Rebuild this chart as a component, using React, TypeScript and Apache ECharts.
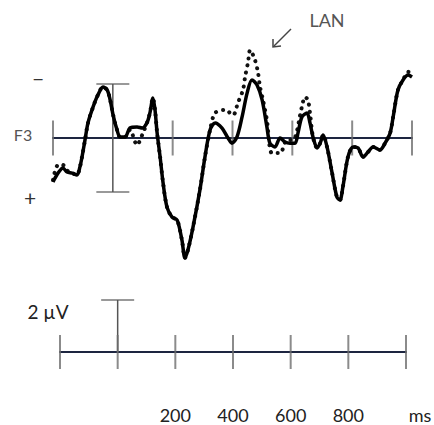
import React, { useEffect, useRef } from 'react';
import * as echarts from 'echarts';

// time (ms) and amplitude (µV, negative plotted upward)
const solidTimes = [-200, -183, -167, -153, -136, -120, -110, -103, -93, -83, -66, -50, -33, -19, -9, 1, 14, 24, 41, 57, 81, 98, 114, 124, 134, 141, 148, 158, 168, 181, 198, 215, 231, 241, 251, 268, 291, 308, 325, 342, 365, 385, 398, 415, 432, 449, 465, 482, 499, 515, 525, 542, 559, 576, 592, 609, 619, 632, 649, 659, 669, 683, 693, 703, 716, 733, 749, 759, 769, 786, 803, 820, 836, 853, 870, 893, 910, 927, 937, 953, 970, 987, 1000];
const solidUV = [1.63, 1.30, 1.11, 1.26, 1.30, 1.37, 1.07, 0.70, 0.07, -0.56, -1.15, -1.59, -1.89, -1.78, -1.41, -0.85, -0.30, -0.04, -0.04, -0.37, -0.41, -0.37, -0.56, -0.93, -1.48, -1.04, -0.19, 0.70, 1.67, 2.56, 2.93, 3.04, 3.78, 4.44, 4.15, 3.30, 1.93, 0.70, -0.30, -0.56, -0.37, 0.00, 0.19, -0.04, -0.78, -1.67, -2.15, -1.96, -1.41, -0.41, 0.19, 0.33, 0.00, 0.15, 0.19, 0.19, -0.19, -0.78, -0.93, -0.56, -0.04, 0.37, 0.19, -0.11, 0.33, 1.30, 2.19, 2.30, 1.81, 0.70, 0.33, 0.37, 0.70, 0.52, 0.33, 0.44, 0.19, -0.19, -0.78, -1.78, -2.15, -2.33, -2.26];

const dottedTimes = [-200, -183, -167, -153, -136, -120, -110, -103, -93, -83, -66, -50, -33, -19, -9, 1, 14, 24, 41, 57, 81, 98, 114, 124, 134, 141, 148, 158, 168, 181, 198, 215, 231, 241, 251, 268, 291, 308, 325, 342, 375, 402, 418, 435, 442, 452, 459, 475, 485, 492, 502, 515, 532, 559, 582, 602, 632, 642, 652, 659, 669, 683, 693, 703, 716, 733, 749, 759, 769, 786, 803, 820, 836, 853, 870, 893, 910, 927, 937, 953, 970, 987, 1000];
const dottedUV = [1.55, 1.00, 1.00, 1.20, 1.30, 1.37, 1.07, 0.70, 0.07, -0.56, -1.15, -1.59, -1.89, -1.78, -1.41, -0.85, -0.30, -0.04, -0.04, -0.30, 0.26, -0.11, -0.56, -0.93, -1.48, -1.04, -0.19, 0.70, 1.67, 2.56, 2.93, 3.04, 3.78, 4.44, 4.15, 3.30, 1.93, 0.70, -0.30, -0.93, -1.04, -0.85, -1.30, -1.78, -2.26, -2.81, -3.26, -2.89, -2.44, -1.89, -1.41, -0.67, 0.56, 0.56, 0.07, 0.07, -1.15, -1.52, -1.41, -0.93, -0.04, 0.37, 0.19, -0.11, 0.33, 1.30, 2.19, 2.30, 1.81, 0.70, 0.33, 0.37, 0.70, 0.52, 0.33, 0.44, 0.19, -0.19, -0.78, -1.78, -2.15, -2.45, -2.40];

const topTicksMs = [-200, 200, 400, 600, 800, 1000];
const bottomTicksMs = [-200, 0, 200, 400, 600, 800, 1000];
const tickLabelMs = [200, 400, 600, 800];
const tickLabels = ['200', '400', '600', '800'];
const scaleBarUV = 2;

export default function App() {
  const ref = useRef<HTMLDivElement>(null);
  useEffect(() => {
    if (!ref.current) return;
    const chart = echarts.init(ref.current, null, { renderer: 'svg' });
    const font = 'Lato, "Open Sans", sans-serif';
    const tickColor = '#6e6e6e';
    const axisColor = '#1d2540';
    chart.setOption({
      animation: false,
      backgroundColor: '#ffffff',
      grid: [
        { left: 53, right: 22, top: 3, height: 270, outerBoundsMode: 'none', containLabel: false },
        { left: 60, right: 28, top: 274, height: 78, outerBoundsMode: 'none', containLabel: false },
      ],
      xAxis: [
        {
          gridIndex: 0, type: 'value', min: -200, max: 1000, interval: 200,
          axisLine: { show: true, onZero: true, lineStyle: { color: axisColor, width: 2 } },
          axisTick: { show: false }, axisLabel: { show: false }, splitLine: { show: false },
        },
        {
          gridIndex: 1, type: 'value', min: -200, max: 1000, interval: 200, position: 'bottom',
          axisLine: { show: true, onZero: false, lineStyle: { color: axisColor, width: 2 } },
          axisTick: { show: false }, splitLine: { show: false },
          axisLabel: {
            show: true, margin: 54, fontSize: 18, color: '#222', fontFamily: font,
            showMinLabel: true, showMaxLabel: true,
            formatter: (v: number) => {
              const i = tickLabelMs.indexOf(v);
              return i >= 0 ? tickLabels[i] : '';
            },
          },
        },
      ],
      yAxis: [
        { gridIndex: 0, type: 'value', min: -5, max: 5, inverse: true, show: false },
        { gridIndex: 1, type: 'value', min: -3, max: 0, inverse: true, show: false },
      ],
      series: [
        {
          type: 'scatter', xAxisIndex: 0, yAxisIndex: 0, silent: true, z: 1,
          symbol: 'rect', symbolSize: [2, 35], itemStyle: { color: tickColor },
          data: topTicksMs.map((t) => [t, 0]),
        },
        {
          type: 'line', xAxisIndex: 0, yAxisIndex: 0, silent: true, z: 1, symbol: 'none',
          lineStyle: { color: '#555', width: 1.5 },
          data: [[0, -scaleBarUV], [0, scaleBarUV]],
        },
        {
          type: 'scatter', xAxisIndex: 0, yAxisIndex: 0, silent: true, z: 1,
          symbol: 'rect', symbolSize: [33, 1.5], itemStyle: { color: '#555' },
          data: [[0, -scaleBarUV], [0, scaleBarUV]],
        },
        {
          type: 'line', xAxisIndex: 0, yAxisIndex: 0, silent: true, z: 3, symbol: 'none',
          smooth: 0.3,
          lineStyle: { color: '#111', width: 4, type: [0.1, 7], cap: 'round' },
          data: dottedTimes.map((t, i) => [t, dottedUV[i]]),
        },
        {
          type: 'line', xAxisIndex: 0, yAxisIndex: 0, silent: true, z: 4, symbol: 'none',
          smooth: 0.3,
          lineStyle: { color: '#000', width: 3.5 },
          data: solidTimes.map((t, i) => [t, solidUV[i]]),
        },
        {
          type: 'scatter', xAxisIndex: 1, yAxisIndex: 1, silent: true, z: 1, clip: false,
          symbol: 'rect', symbolSize: [2, 34], itemStyle: { color: tickColor },
          data: bottomTicksMs.map((t) => [t, 0]),
        },
        {
          type: 'line', xAxisIndex: 1, yAxisIndex: 1, silent: true, z: 1, symbol: 'none',
          lineStyle: { color: '#555', width: 1.5 },
          data: [[0, 0], [0, -scaleBarUV]],
        },
        {
          type: 'scatter', xAxisIndex: 1, yAxisIndex: 1, silent: true, z: 1,
          symbol: 'rect', symbolSize: [33, 1.5], itemStyle: { color: '#555' },
          data: [[0, -scaleBarUV]],
        },
      ],
      graphic: [
        { type: 'text', x: 38, y: 77, style: { text: '–', fill: '#333', font: `22px ${font}`, align: 'center', verticalAlign: 'middle' } },
        { type: 'text', x: 23, y: 134, style: { text: 'F3', fill: '#555', font: `16px ${font}`, align: 'center', verticalAlign: 'middle' } },
        { type: 'text', x: 30, y: 197, style: { text: '+', fill: '#333', font: `21px ${font}`, align: 'center', verticalAlign: 'middle' } },
        { type: 'text', x: 327, y: 20, style: { text: 'LAN', fill: '#555', font: `18px ${font}`, align: 'center', verticalAlign: 'middle' } },
        { type: 'text', x: 48, y: 311, style: { text: '2 µV', fill: '#222', font: `19px ${font}`, align: 'center', verticalAlign: 'middle' } },
        { type: 'text', x: 420, y: 415, style: { text: 'ms', fill: '#222', font: `18px ${font}`, align: 'center', verticalAlign: 'middle' } },
        { type: 'line', shape: { x1: 291, y1: 29, x2: 274, y2: 46 }, style: { stroke: '#444', lineWidth: 1.5 } },
        { type: 'polyline', shape: { points: [[273, 39], [273, 47], [281, 46]] }, style: { stroke: '#444', lineWidth: 1.5, fill: null } },
      ],
    });
    return () => chart.dispose();
  }, []);
  return <div ref={ref} style={{ position: 'fixed', left: 0, top: 0, width: 434, height: 425 }} />;
}
